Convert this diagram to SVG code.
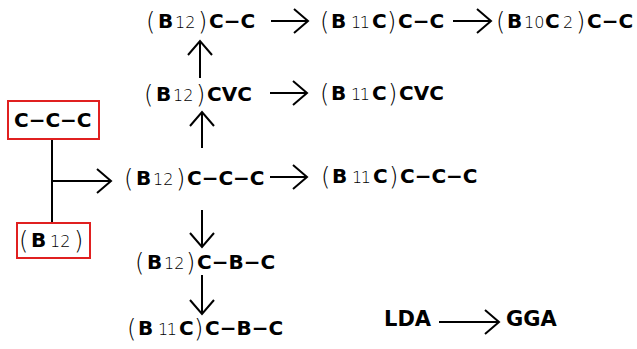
<svg xmlns="http://www.w3.org/2000/svg" width="637" height="349" viewBox="0 0 637 349">
<style>
text{font-family:"DejaVu Sans",sans-serif;fill:#000}
.b{font-weight:bold;font-size:20px}
.L{font-weight:bold;font-size:21px}
.p{font-weight:200;font-size:24px}
.n{font-weight:200;font-size:16px}
.n1{font-weight:200;font-size:16px;letter-spacing:-1.5px}
.box{fill:#fff;stroke:#e02020;stroke-width:2}
.c{stroke:#000;stroke-width:2;fill:none}
</style>
<defs>
<marker id="ah" markerUnits="userSpaceOnUse" markerWidth="30" markerHeight="30" refX="15" refY="15" orient="auto" overflow="visible">
<path d="M1,3 L15,15 L1,27" fill="none" stroke="#000" stroke-width="2"/>
</marker>
</defs>
<rect width="637" height="349" fill="#fff"/>
<g id="connectors">
<line class="c" x1="271" y1="21" x2="308" y2="21" marker-end="url(#ah)"/>
<line class="c" x1="453" y1="21" x2="491" y2="21" marker-end="url(#ah)"/>
<line class="c" x1="270" y1="93" x2="307" y2="93" marker-end="url(#ah)"/>
<line class="c" x1="270" y1="177" x2="307" y2="177" marker-end="url(#ah)"/>
<line class="c" x1="200" y1="78" x2="200" y2="41" marker-end="url(#ah)"/>
<line class="c" x1="202" y1="148" x2="202" y2="112" marker-end="url(#ah)"/>
<line class="c" x1="202" y1="210" x2="202" y2="247" marker-end="url(#ah)"/>
<line class="c" x1="202" y1="275" x2="202" y2="314" marker-end="url(#ah)"/>
<line class="c" x1="52" y1="139" x2="52" y2="223"/>
<line class="c" x1="52" y1="181" x2="111" y2="181" marker-end="url(#ah)"/>
<line class="c" x1="439" y1="322" x2="499" y2="322" marker-end="url(#ah)"/>
</g>
<g id="n_ccc">
<rect class="box" x="8" y="101" width="91" height="38"/>
<text x="14" y="127" class="b">C−C−C</text>
</g>
<g id="n_b12">
<rect class="box" x="17" y="223" width="73" height="35"/>
<text><tspan class="p" x="19" y="249">(</tspan><tspan class="b" x="31" y="247">B</tspan><tspan class="n" x="50" y="247">12</tspan><tspan class="p" x="74" y="249">)</tspan></text>
</g>
<g id="n_b12cc">
<text><tspan class="p" x="146" y="30">(</tspan><tspan class="b" x="158" y="28">B</tspan><tspan class="n" x="175" y="28">12</tspan><tspan class="p" x="198" y="30">)</tspan><tspan class="b" x="209" y="28">C−C</tspan></text>
</g>
<g id="n_b11cc_top">
<text><tspan class="p" x="320" y="30">(</tspan><tspan class="b" x="331" y="28">B</tspan><tspan class="n1" x="351" y="28">11</tspan><tspan class="b" x="372" y="28">C</tspan><tspan class="p" x="387" y="30">)</tspan><tspan class="b" x="398" y="28">C−C</tspan></text>
</g>
<g id="n_b10c2cc">
<text><tspan class="p" x="496" y="30">(</tspan><tspan class="b" x="507" y="28">B</tspan><tspan class="n" x="524" y="28">10</tspan><tspan class="b" x="545" y="28">C</tspan><tspan class="n" x="563" y="28">2</tspan><tspan class="p" x="576" y="30">)</tspan><tspan class="b" x="587" y="28">C−C</tspan></text>
</g>
<g id="n_b12cvc">
<text><tspan class="p" x="144" y="103">(</tspan><tspan class="b" x="156" y="101">B</tspan><tspan class="n" x="173" y="101">12</tspan><tspan class="p" x="196" y="103">)</tspan><tspan class="b" x="207" y="101">CVC</tspan></text>
</g>
<g id="n_b11ccvc">
<text><tspan class="p" x="320" y="102">(</tspan><tspan class="b" x="331" y="100">B</tspan><tspan class="n1" x="351" y="100">11</tspan><tspan class="b" x="372" y="100">C</tspan><tspan class="p" x="388" y="102">)</tspan><tspan class="b" x="399" y="100">CVC</tspan></text>
</g>
<g id="n_b12ccc">
<text><tspan class="p" x="124" y="187">(</tspan><tspan class="b" x="136" y="185">B</tspan><tspan class="n" x="153" y="185">12</tspan><tspan class="p" x="176" y="187">)</tspan><tspan class="b" x="187" y="185">C−C−C</tspan></text>
</g>
<g id="n_b11cccc">
<text><tspan class="p" x="321" y="185">(</tspan><tspan class="b" x="332" y="183">B</tspan><tspan class="n1" x="352" y="183">11</tspan><tspan class="b" x="373" y="183">C</tspan><tspan class="p" x="389" y="185">)</tspan><tspan class="b" x="400" y="183">C−C−C</tspan></text>
</g>
<g id="n_b12cbc">
<text><tspan class="p" x="135" y="271">(</tspan><tspan class="b" x="147" y="269">B</tspan><tspan class="n" x="164" y="269">12</tspan><tspan class="p" x="186" y="271">)</tspan><tspan class="b" x="197" y="269">C−B−C</tspan></text>
</g>
<g id="n_b11ccbc">
<text><tspan class="p" x="127" y="337">(</tspan><tspan class="b" x="138" y="335">B</tspan><tspan class="n1" x="158" y="335">11</tspan><tspan class="b" x="179" y="335">C</tspan><tspan class="p" x="194" y="337">)</tspan><tspan class="b" x="205" y="335">C−B−C</tspan></text>
</g>
<g id="n_lda">
<text x="384" y="326" class="L">LDA</text>
</g>
<g id="n_gga">
<text x="506" y="326" class="L">GGA</text>
</g>
</svg>
